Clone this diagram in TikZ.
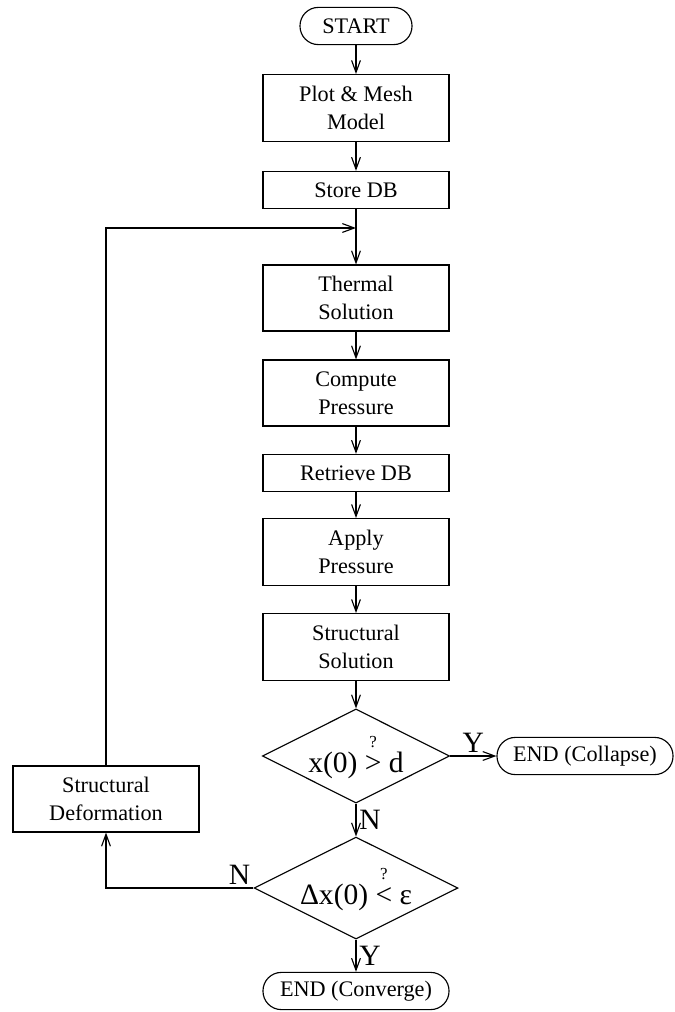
\documentclass[tikz,border=0pt]{standalone}
\usepackage{fontspec}
\setmainfont{Liberation Serif}
\usepackage{amsmath}
\usetikzlibrary{
    shapes.geometric,
    arrows.meta
}
\newcommand{\askrel}[1]{\ensuremath{\mathrel{\overset{\raisebox{2pt}{\fontsize{12}{12}\selectfont ?}}{\text{#1}}}}}
\tikzset{
    % process boxes, one or two lines of text
    procbox/.style={
        draw, rectangle, align=center, inner sep=0pt,
        minimum width=4.65cm, minimum height=#1,
        font=\fontsize{15.8}{20}\selectfont
    },
    procbox/.default=0.93cm,
    % rounded start / end boxes
    termbox/.style={
        draw, rectangle, rounded corners=0.46cm, inner sep=0pt,
        minimum width=#1, minimum height=0.93cm,
        font=\fontsize{15.8}{20}\selectfont
    },
    % yes / no tests
    testbox/.style={
        draw, diamond, aspect=2, inner sep=0pt,
        minimum width=4.6cm, minimum height=2.35cm,
        font=\fontsize{21}{25}\selectfont
    },
    answer/.style={font=\fontsize{21}{25}\selectfont, inner sep=2pt},
    >={Straight Barb[length=3mm,width=2.2mm]}
}

\begin{document}
\begin{tikzpicture}[x=0.025cm, y=-0.025cm, line width=0.8pt]
    \useasboundingbox (0,0) rectangle (675,1012);
    % main column
    \node (start)    at (356,26)  [termbox=2.8cm]{START};
    \node (plot)     at (356,108) [procbox=1.67cm]{Plot \& Mesh\\Model};
    \node (store)    at (356,190) [procbox]{Store DB};
    \coordinate (join) at (356,228);
    \node (thermal)  at (356,298) [procbox=1.65cm]{Thermal\\Solution};
    \node (compute)  at (356,393) [procbox=1.65cm]{Compute\\Pressure};
    \node (retrieve) at (356,473) [procbox]{Retrieve DB};
    \node (apply)    at (356,552) [procbox=1.67cm]{Apply\\Pressure};
    \node (structsol) at (356,647) [procbox=1.67cm]{Structural\\Solution};
    \node (collapsetest) at (356,756) [testbox]{x(0) \askrel{>} d};
    \node (convtest) at (356,888) [testbox]{Δx(0) \askrel{<} ε};
    \node (converge) at (356,991) [termbox=4.65cm]{END (Converge)};
    % side boxes
    \node (collapse) at (585,756) [termbox=4.4cm]{END (Collapse)};
    \node (deform)   at (106,799) [procbox=1.65cm]{Structural\\Deformation};

    \draw[->] (start) -- (plot);
    \draw[->] (plot) -- (store);
    \draw[->] (store) -- (thermal);
    \draw[->] (thermal) -- (compute);
    \draw[->] (compute) -- (retrieve);
    \draw[->] (retrieve) -- (apply);
    \draw[->] (apply) -- (structsol);
    \draw[->] (structsol) -- (collapsetest);
    \draw[->] (collapsetest) -- node[answer, above]{Y} (collapse);
    \draw[->] (collapsetest) -- node[answer, right]{N} (convtest);
    \draw[->] (convtest) -- node[answer, right]{Y} (converge);
    % loop back
    \draw[->] (convtest.west) node[answer, above left]{N} -| (deform.south);
    \draw[->] (deform.north) |- (join);
\end{tikzpicture}
\end{document}
